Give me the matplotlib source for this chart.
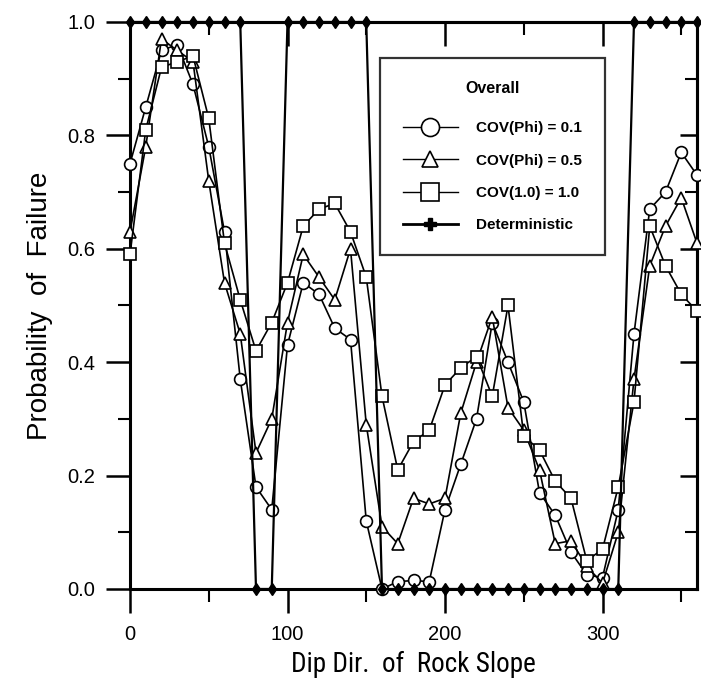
import matplotlib
matplotlib.use("Agg")
import matplotlib.pyplot as plt
from matplotlib.lines import Line2D
from matplotlib.ticker import MultipleLocator
from matplotlib import font_manager

plt.rcParams['font.family'] = ['Liberation Sans', 'DejaVu Sans']

# Dip direction of the rock slope (degrees)
dip_dir = list(range(0, 361, 10))

# Probability of failure for each case
pf_cov01 = [0.75, 0.85, 0.95, 0.96, 0.89, 0.78, 0.63, 0.37, 0.18, 0.14,
            0.43, 0.54, 0.52, 0.46, 0.44, 0.12, 0.00, 0.013, 0.015, 0.013,
            0.14, 0.22, 0.30, 0.47, 0.40, 0.33, 0.17, 0.13, 0.065, 0.025,
            0.02, 0.14, 0.45, 0.67, 0.70, 0.77, 0.73]
pf_cov05 = [0.63, 0.78, 0.97, 0.95, 0.93, 0.72, 0.54, 0.45, 0.24, 0.30,
            0.47, 0.59, 0.55, 0.51, 0.60, 0.29, 0.11, 0.08, 0.16, 0.15,
            0.16, 0.31, 0.40, 0.48, 0.32, 0.28, 0.21, 0.08, 0.085, 0.04,
            0.01, 0.10, 0.37, 0.57, 0.64, 0.69, 0.61]
pf_cov10 = [0.59, 0.81, 0.92, 0.93, 0.94, 0.83, 0.61, 0.51, 0.42, 0.47,
            0.54, 0.64, 0.67, 0.68, 0.63, 0.55, 0.34, 0.21, 0.26, 0.28,
            0.36, 0.39, 0.41, 0.34, 0.50, 0.27, 0.245, 0.19, 0.16, 0.05,
            0.07, 0.18, 0.33, 0.64, 0.57, 0.52, 0.49]
pf_det = [1, 1, 1, 1, 1, 1, 1, 1, 0, 0,
          1, 1, 1, 1, 1, 1, 0, 0, 0, 0,
          0, 0, 0, 0, 0, 0, 0, 0, 0, 0,
          0, 0, 1, 1, 1, 1, 1]

series_labels = ["COV(Phi) = 0.1", "COV(Phi) = 0.5", "COV(1.0) = 1.0", "Deterministic"]
x_ticks = [0, 100, 200, 300]
y_ticks = [0.0, 0.2, 0.4, 0.6, 0.8, 1.0]

# a narrow face for the x-axis title, if one is installed
narrow_names = {f.name for f in font_manager.fontManager.ttflist
                if 'narrow' in f.name.lower() or 'condensed' in f.name.lower()}
if 'Liberation Sans Narrow' in narrow_names:
    xlab_font = dict(family='Liberation Sans Narrow', fontsize=19.5)
elif 'Roboto Condensed' in narrow_names:
    xlab_font = dict(family='Roboto Condensed', fontsize=19.5)
else:
    xlab_font = dict(family='Liberation Sans', fontsize=17)

fig = plt.figure(figsize=(7.01, 6.93), dpi=100)
ax = fig.add_axes([130 / 701, 104 / 693, 567 / 701, 567 / 693])

common = dict(color='black', lw=1.2, mfc='white', mec='black', mew=1.2, clip_on=False)
h1, = ax.plot(dip_dir, pf_cov01, marker='o', ms=8.5, zorder=3, **common)
h2, = ax.plot(dip_dir, pf_cov05, marker='^', ms=8, zorder=3, **common)
h3, = ax.plot(dip_dir, pf_cov10, marker='s', ms=9, zorder=3, **common)
h4, = ax.plot(dip_dir, pf_det, color='black', lw=1.6, marker='d', ms=6,
              mfc='black', mec='black', clip_on=False, zorder=4)

ax.set_xlim(0, 360)
ax.set_ylim(0, 1.0)
ax.set_xticks(x_ticks)
ax.set_yticks(y_ticks)
ax.set_yticklabels([f"{v:.1f}" for v in y_ticks])
ax.xaxis.set_minor_locator(MultipleLocator(50))
ax.yaxis.set_minor_locator(MultipleLocator(0.1))
ax.tick_params(which='major', direction='out', length=17, width=1.8,
               labelsize=14.5, pad=8)
ax.tick_params(which='minor', direction='out', length=9, width=1.5)
ax.tick_params(axis='x', which='major', pad=9)

for sp in ax.spines.values():
    sp.set_linewidth(2.2)

# inward ticks along the top and right frame
top = ax.secondary_xaxis('top')
top.set_xticks(x_ticks)
top.xaxis.set_minor_locator(MultipleLocator(50))
top.tick_params(which='major', direction='in', length=17, width=1.8, labeltop=False)
top.tick_params(which='minor', direction='in', length=9, width=1.5)
top.spines['top'].set_linewidth(2.2)
right = ax.secondary_yaxis('right')
right.set_yticks(y_ticks)
right.yaxis.set_minor_locator(MultipleLocator(0.1))
right.tick_params(which='major', direction='in', length=12, width=1.8, labelright=False)
right.tick_params(which='minor', direction='in', length=9, width=1.5)
right.spines['right'].set_linewidth(2.2)

ax.set_xlabel("Dip Dir.  of  Rock Slope", labelpad=5, **xlab_font)
ax.set_ylabel("Probability  of  Failure", fontsize=20, labelpad=10)

leg_handles = [
    Line2D([], [], color='black', lw=1.0, marker='o', ms=13, mfc='white', mec='black', mew=1.2),
    Line2D([], [], color='black', lw=1.0, marker='^', ms=11, mfc='white', mec='black', mew=1.2),
    Line2D([], [], color='black', lw=1.0, marker='s', ms=13, mfc='white', mec='black', mew=1.2),
    Line2D([], [], color='black', lw=2.0, marker='P', ms=9, mfc='black', mec='black'),
]
leg = ax.legend(leg_handles, series_labels, title="Overall",
                loc='upper left', bbox_to_anchor=(0.441, 0.936),
                frameon=True, fancybox=False, edgecolor='black',
                prop={'size': 11, 'weight': 'bold'},
                title_fontproperties={'size': 11.5, 'weight': 'bold'},
                handlelength=3.6, handletextpad=1.2, labelspacing=1.2,
                borderpad=1.5, borderaxespad=0)
leg.get_frame().set_linewidth(1.6)
leg._legend_box.sep = 18
leg.set_zorder(5)

fig.savefig("out.png", dpi=100)
